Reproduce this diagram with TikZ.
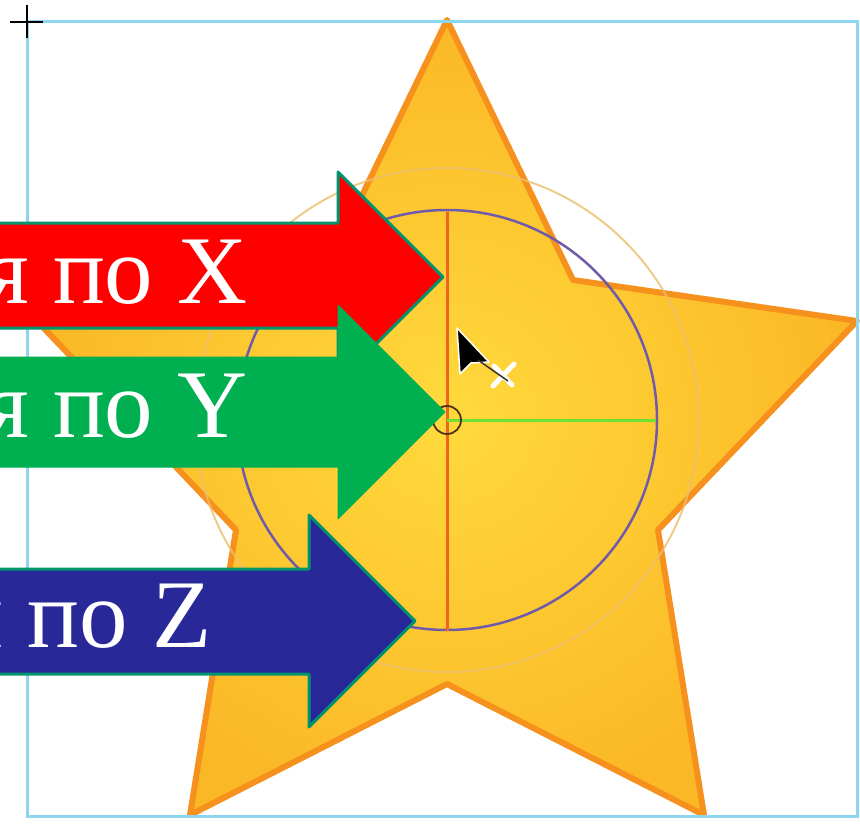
\documentclass[tikz,border=0pt]{standalone}
\usepackage{fontspec}
\setmainfont{Liberation Serif}
\definecolor{frameblue}{RGB}{140,214,240}
\definecolor{starline}{RGB}{247,145,30}
\definecolor{starin}{RGB}{255,218,60}
\definecolor{starout}{RGB}{251,184,38}
\definecolor{faintcirc}{RGB}{236,190,110}
\definecolor{purplecirc}{RGB}{112,90,170}
\definecolor{axisred}{RGB}{240,100,30}
\definecolor{axisgreen}{RGB}{110,225,50}
\definecolor{arrowedge}{RGB}{0,148,110}
\definecolor{arrowred}{RGB}{255,0,0}
\definecolor{arrowgreen}{RGB}{0,176,80}
\definecolor{arrowblue}{RGB}{41,40,153}
\tikzset{
  starshape/.style={draw=starline, line width=6pt, line join=round, inner color=starin, outer color=starout},
  bigarrow/.style={draw=arrowedge, line width=3pt, line join=round},
  label/.style={inner sep=0pt, anchor=base east, text=white, font=\fontsize{97}{100}\selectfont},
}
\begin{document}
\begin{tikzpicture}[x=1pt,y=-1pt]
\useasboundingbox (0,0) rectangle (860,824);
\fill[white] (0,0) rectangle (860,824);
% star
\shadedraw[starshape] (447,20) -- (573,280) -- (857,321) -- (658,530) -- (704,815)
  -- (447,684) -- (190,815) -- (236,530) -- (37,321) -- (321,280) -- cycle;
% circles and axes
\draw[faintcirc, line width=2pt, opacity=0.8] (447,420) circle[radius=252];
\draw[purplecirc, line width=2.5pt] (447,420) circle[radius=210];
\draw[axisred, line width=3pt] (447,212) -- (447,631);
\draw[axisgreen, line width=3pt] (447,420) -- (656,420);
\draw[black!60!brown, line width=1.8pt] (447,420) circle[radius=14];
% frame
\draw[frameblue, line width=3pt] (27,22) rectangle (857,816);
\draw[black, line width=2.5pt] (10,22) -- (43,22) (27,5) -- (27,38);
% arrows
\filldraw[bigarrow, fill=arrowred] (-10,223) -- (338,223) -- (338,172) -- (443,277)
  -- (338,382) -- (338,328) -- (-10,328) -- cycle;
\node[label] (tx) at (248,303) {я по X};
\filldraw[fill=arrowgreen, draw=arrowgreen, line width=1pt, line join=round] (-10,357) -- (338,357) -- (338,305) -- (445,412)
  -- (338,519) -- (338,467) -- (-10,467) -- cycle;
\node[label] (ty) at (248,437) {я по Y};
\filldraw[bigarrow, fill=arrowblue] (-10,569) -- (309,569) -- (309,515) -- (415,621)
  -- (309,727) -- (309,674) -- (-10,674) -- cycle;
\node[label] (tz) at (212,647) {и по Z};
% cursor
\draw[white, line width=5pt, line cap=round] (493,386) -- (514,364) (494,366) -- (512,385);
\filldraw[fill=black, draw=white, line width=1.5pt, line join=round] (457,328) -- (460,374) -- (471,363) -- (489,362) -- cycle;
\draw[black!80, line width=1.5pt] (478,360) -- (508,381);
\end{tikzpicture}
\end{document}
